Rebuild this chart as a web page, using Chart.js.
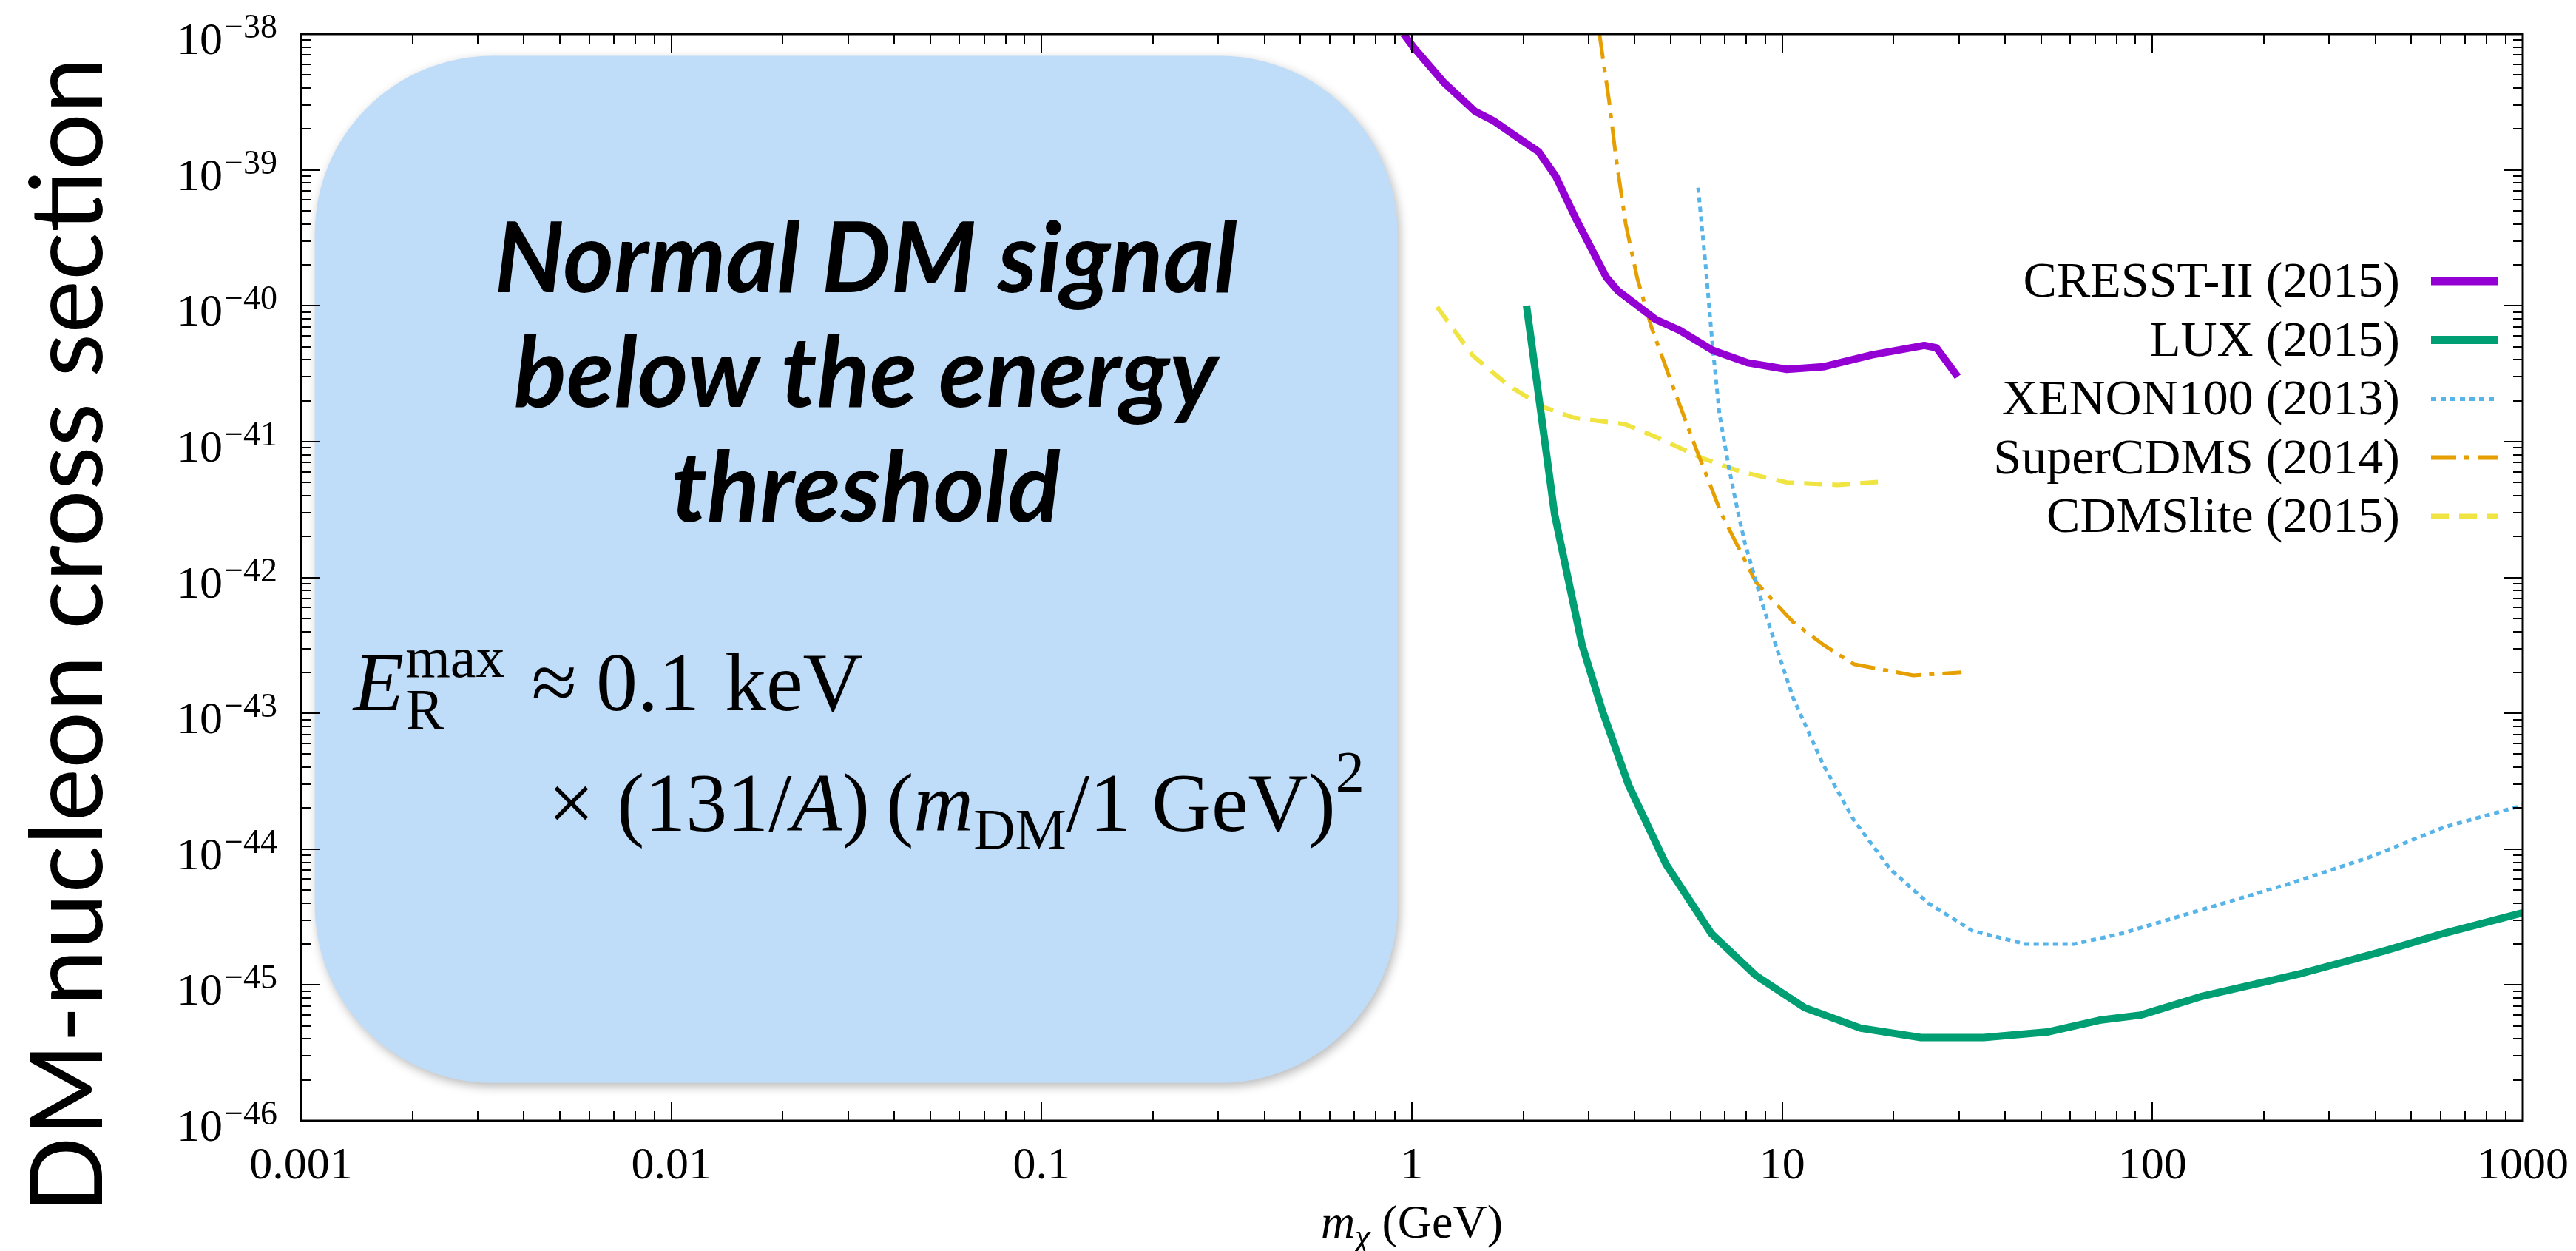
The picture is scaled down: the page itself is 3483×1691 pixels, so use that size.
<!DOCTYPE html>
<html>
<head>
<meta charset="utf-8">
<script src="https://cdn.jsdelivr.net/npm/chart.js@4.4.0/dist/chart.umd.min.js"></script>
<style>
html, body { margin: 0; padding: 0; background: #fff; }
#wrap { width: 3483px; height: 1691px; }
</style>
</head>
<body>
<div id="wrap"><canvas id="graph" width="3483" height="1691"></canvas></div>
<script>
// masses in GeV, cross sections in cm^2
const cresstMass  = [0.95, 1.01, 1.22, 1.48, 1.66, 1.95, 2.2, 2.45, 2.77, 3.35, 3.6, 4.56, 5.28, 6.49, 8.07, 10.3, 12.9, 17.5, 24.2, 26.1, 29.8];
const cresstSigma = [1e-38, 8e-39, 4.4e-39, 2.7e-39, 2.3e-39, 1.7e-39, 1.36e-39, 8.9e-40, 4.4e-40, 1.62e-40, 1.29e-40, 7.9e-41, 6.6e-41, 4.7e-41, 3.8e-41, 3.4e-41, 3.55e-41, 4.35e-41, 5.1e-41, 4.9e-41, 3.0e-41];

const luxMass  = [2.04, 2.43, 2.88, 3.27, 3.85, 4.86, 6.43, 8.5, 11.5, 16.3, 23.7, 35, 52, 72, 93, 135, 254, 423, 613, 1000];
const luxSigma = [1e-40, 2.9e-42, 3.2e-43, 1.04e-43, 2.95e-44, 7.7e-45, 2.4e-45, 1.17e-45, 6.8e-46, 4.8e-46, 4.1e-46, 4.1e-46, 4.5e-46, 5.5e-46, 6.0e-46, 8.2e-46, 1.22e-45, 1.78e-45, 2.4e-45, 3.4e-45];

const xenonMass  = [5.93, 6.21, 6.49, 6.77, 7.19, 7.62, 7.93, 8.9, 10.7, 12.9, 15.6, 19.6, 24.8, 32.7, 45.4, 61.4, 83, 132, 231, 385, 613, 1000];
const xenonSigma = [7.4e-40, 2.0e-40, 5.0e-41, 1.6e-41, 6.3e-42, 2.9e-42, 1.8e-42, 6.0e-43, 1.3e-43, 4.2e-44, 1.64e-44, 7.1e-45, 4.0e-45, 2.5e-45, 2.0e-45, 2.0e-45, 2.4e-45, 3.5e-45, 5.5e-45, 8.7e-45, 1.45e-44, 2.1e-44];

const scdmsMass  = [3.21, 3.41, 3.56, 3.78, 4.06, 4.44, 4.98, 5.77, 6.87, 8.5, 10.7, 12.9, 15.6, 22.6, 30.5];
const scdmsSigma = [1e-38, 3.2e-39, 1.22e-39, 4.0e-40, 1.6e-40, 6.9e-41, 2.9e-41, 9.8e-42, 2.9e-42, 9.2e-43, 4.7e-43, 3.2e-43, 2.3e-43, 1.9e-43, 2.0e-43];

const liteMass  = [1.17, 1.46, 1.82, 2.26, 2.73, 3.77, 4.56, 6.12, 7.74, 10.3, 14.1, 19.1];
const liteSigma = [9.8e-41, 4.3e-41, 2.6e-41, 1.8e-41, 1.5e-41, 1.34e-41, 1.08e-41, 7.5e-42, 6.0e-42, 5.0e-42, 4.8e-42, 5.1e-42];

// axes
const xTickValues = [0.001, 0.01, 0.1, 1, 10, 100, 1000];
const xTickLabels = ['0.001', '0.01', '0.1', '1', '10', '100', '1000'];
const yTickExponents = [-46, -45, -44, -43, -42, -41, -40, -39, -38];
const yTickLabels = ['\u221246', '\u221245', '\u221244', '\u221243', '\u221242', '\u221241', '\u221240', '\u221239', '\u221238'];

const serif = '"Liberation Serif", "DejaVu Serif", serif';
const sans = 'Lato, "Open Sans", sans-serif';

function makeSet(label, mass, sigma, color, width, dash) {
    return {
        label: label,
        data: mass.map((m, i) => ({ x: m, y: sigma[i] })),
        borderColor: color,
        backgroundColor: color,
        borderWidth: width,
        borderDash: dash,
        borderJoinStyle: 'round',
        pointRadius: 0,
        fill: false,
        tension: 0
    };
}

const data = {
    datasets: [
        makeSet('CRESST-II (2015)', cresstMass, cresstSigma, '#9400D3', 10, []),
        makeSet('LUX (2015)', luxMass, luxSigma, '#009E73', 10, []),
        makeSet('XENON100 (2013)', xenonMass, xenonSigma, '#56B4E9', 5, [7, 6]),
        makeSet('SuperCDMS (2014)', scdmsMass, scdmsSigma, '#E69F00', 5, [34, 11, 7, 11]),
        makeSet('CDMSlite (2015)', liteMass, liteSigma, '#F0E442', 6, [24, 14])
    ]
};

// blue note box, in data units
const noteBox = { xMin: 0.00109, xMax: 0.915, yMin: 1.9e-46, yMax: 6.9e-39, radius: 240 };

// draws a row of text pieces: {t, font, dy, gap}
function drawRuns(ctx, x, y, runs) {
    runs.forEach(r => {
        ctx.font = r.font;
        ctx.fillText(r.t, x, y + (r.dy || 0));
        if (!r.stack) x += ctx.measureText(r.t).width;
        x += (r.gap || 0);
    });
    return x;
}
function runsWidth(ctx, runs) {
    let w = 0;
    runs.forEach(r => {
        ctx.font = r.font;
        if (!r.stack) w += ctx.measureText(r.t).width;
        w += (r.gap || 0);
    });
    return w;
}

const decorations = {
    id: 'decorations',
    beforeDatasetsDraw(chart) {
        const ctx = chart.ctx;
        const sx = chart.scales.x, sy = chart.scales.y;
        const l = sx.getPixelForValue(noteBox.xMin), r = sx.getPixelForValue(noteBox.xMax);
        const t = sy.getPixelForValue(noteBox.yMax), b = sy.getPixelForValue(noteBox.yMin);
        const rad = noteBox.radius;
        ctx.save();
        ctx.shadowColor = 'rgba(0,0,0,0.28)';
        ctx.shadowBlur = 14;
        ctx.shadowOffsetX = 3;
        ctx.shadowOffsetY = 5;
        ctx.fillStyle = '#BFDDF8';
        ctx.beginPath();
        ctx.moveTo(l + rad, t);
        ctx.lineTo(r - rad, t);
        ctx.arcTo(r, t, r, t + rad, rad);
        ctx.lineTo(r, b - rad);
        ctx.arcTo(r, b, r - rad, b, rad);
        ctx.lineTo(l + rad, b);
        ctx.arcTo(l, b, l, b - rad, rad);
        ctx.lineTo(l, t + rad);
        ctx.arcTo(l, t, l + rad, t, rad);
        ctx.closePath();
        ctx.fill();
        ctx.restore();

        // headline
        ctx.save();
        ctx.fillStyle = '#000';
        ctx.textAlign = 'center';
        ctx.textBaseline = 'alphabetic';
        ctx.font = 'italic 700 132px ' + sans;
        const cx = l + (r - l) / 2 + 13;
        ctx.fillText('Normal DM signal', cx, t + 319);
        ctx.fillText('below the energy', cx, t + 474);
        ctx.fillText('threshold', cx, t + 629);

        // formula
        ctx.textAlign = 'left';
        const big = 112, small = 78;
        const rm = (s) => s + 'px ' + serif;
        const it = (s) => 'italic ' + s + 'px ' + serif;
        drawRuns(ctx, l + 52, t + 884, [
            { t: 'E', font: it(big), gap: 2 },
            { t: 'R', font: rm(small), dy: 25, stack: true },
            { t: 'max', font: rm(small), dy: -45, gap: 36 },
            { t: '\u2248', font: rm(big), gap: 26 },
            { t: '0.1', font: rm(big), gap: 34 },
            { t: 'keV', font: rm(big) }
        ]);
        drawRuns(ctx, l + 315, t + 1047, [
            { t: '\u00d7', font: rm(big), gap: 30 },
            { t: '(131/', font: rm(big) },
            { t: 'A', font: it(big) },
            { t: ')', font: rm(big), gap: 22 },
            { t: '(', font: rm(big) },
            { t: 'm', font: it(big) },
            { t: 'DM', font: rm(small), dy: 24 },
            { t: '/1', font: rm(big), gap: 28 },
            { t: 'GeV)', font: rm(big) },
            { t: '2', font: rm(small), dy: -54 }
        ]);
        ctx.restore();
    },
    afterDraw(chart) {
        const ctx = chart.ctx;
        const area = chart.chartArea;
        const sx = chart.scales.x, sy = chart.scales.y;
        ctx.save();

        // ticks on all four sides, pointing inward
        ctx.strokeStyle = '#000';
        ctx.lineWidth = 2;
        const major = 26, minor = 13;
        ctx.beginPath();
        for (let e = -3; e <= 3; e++) {
            for (let k = 1; k <= 9; k++) {
                if (e === 3 && k > 1) break;
                const px = Math.round(sx.getPixelForValue(k * Math.pow(10, e)));
                const len = k === 1 ? major : minor;
                ctx.moveTo(px, area.bottom); ctx.lineTo(px, area.bottom - len);
                ctx.moveTo(px, area.top); ctx.lineTo(px, area.top + len);
            }
        }
        for (let e = -46; e <= -38; e++) {
            for (let k = 1; k <= 9; k++) {
                if (e === -38 && k > 1) break;
                const py = Math.round(sy.getPixelForValue(k * Math.pow(10, e)));
                const len = k === 1 ? major : minor;
                ctx.moveTo(area.left, py); ctx.lineTo(area.left + len, py);
                ctx.moveTo(area.right, py); ctx.lineTo(area.right - len, py);
            }
        }
        ctx.stroke();

        // frame
        ctx.lineWidth = 3;
        ctx.strokeRect(area.left, area.top, area.right - area.left, area.bottom - area.top);

        // tick labels
        ctx.fillStyle = '#000';
        ctx.textBaseline = 'alphabetic';
        ctx.textAlign = 'center';
        ctx.font = '62px ' + serif;
        xTickValues.forEach((v, i) => {
            ctx.fillText(xTickLabels[i], sx.getPixelForValue(v), area.bottom + 78);
        });
        ctx.textAlign = 'right';
        const labelRight = area.left - 32;
        yTickExponents.forEach((e, i) => {
            const py = sy.getPixelForValue(Math.pow(10, e));
            ctx.font = '46px ' + serif;
            const w = ctx.measureText(yTickLabels[i]).width;
            ctx.fillText(yTickLabels[i], labelRight, py + 5);
            ctx.font = '62px ' + serif;
            ctx.fillText('10', labelRight - w - 2, py + 27);
        });

        // x title
        ctx.textAlign = 'left';
        const xRuns = [
            { t: 'm', font: 'italic 64px ' + serif },
            { t: '\u03c7', font: 'italic 46px ' + serif, dy: 13, gap: 16 },
            { t: '(GeV)', font: '64px ' + serif }
        ];
        const xc = sx.getPixelForValue(1);
        drawRuns(ctx, xc - runsWidth(ctx, xRuns) / 2, area.bottom + 158, xRuns);

        // y title
        ctx.save();
        ctx.translate(138, (area.top + area.bottom) / 2 + 78);
        ctx.rotate(-Math.PI / 2);
        ctx.textAlign = 'center';
        ctx.font = '136px ' + sans;
        ctx.fillText('DM-nucleon cross section', 0, 0);
        ctx.restore();

        // legend
        ctx.textAlign = 'right';
        ctx.font = '68px ' + serif;
        chart.data.datasets.forEach((ds, i) => {
            const rowY = area.top + 334 + i * 79.5;
            ctx.fillStyle = '#000';
            ctx.fillText(ds.label, area.right - 166, rowY + 21);
            ctx.strokeStyle = ds.borderColor;
            ctx.lineWidth = ds.borderWidth + 1;
            ctx.setLineDash(ds.borderDash);
            ctx.beginPath();
            ctx.moveTo(area.right - 124, rowY);
            ctx.lineTo(area.right - 34, rowY);
            ctx.stroke();
            ctx.setLineDash([]);
        });
        ctx.restore();
    }
};

const graph = new Chart(document.getElementById('graph'), {
    type: 'line',
    data: data,
    options: {
        responsive: false,
        animation: false,
        layout: { padding: { left: 407, right: 72, top: 46, bottom: 176 } },
        scales: {
            x: { type: 'logarithmic', min: 0.001, max: 1000, display: false },
            y: { type: 'logarithmic', min: 1e-46, max: 1e-38, display: false }
        },
        plugins: {
            legend: { display: false },
            tooltip: { enabled: false }
        }
    },
    plugins: [decorations]
});
</script>
</body>
</html>
